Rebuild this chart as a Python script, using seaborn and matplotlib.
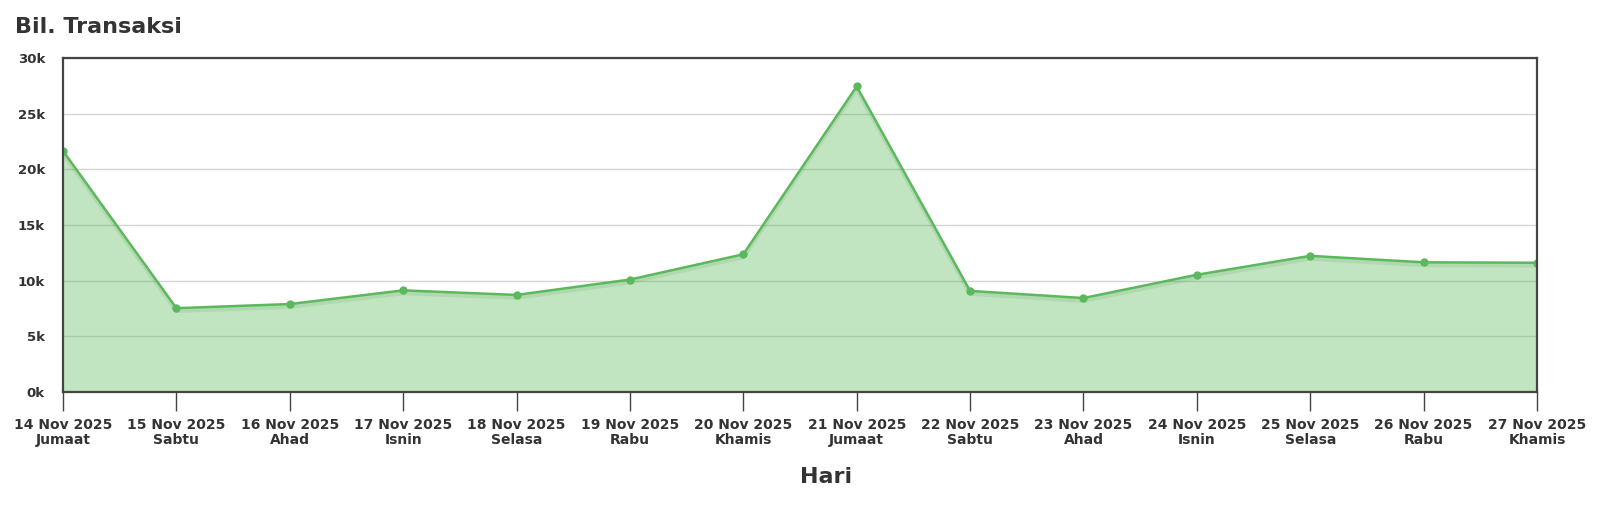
import matplotlib
matplotlib.use("Agg")
import matplotlib.pyplot as plt
import seaborn as sns
import pandas as pd
import numpy as np

dates = ["14 Nov 2025", "15 Nov 2025", "16 Nov 2025", "17 Nov 2025", "18 Nov 2025",
         "19 Nov 2025", "20 Nov 2025", "21 Nov 2025", "22 Nov 2025", "23 Nov 2025",
         "24 Nov 2025", "25 Nov 2025", "26 Nov 2025", "27 Nov 2025"]
days = ["Jumaat", "Sabtu", "Ahad", "Isnin", "Selasa", "Rabu", "Khamis",
        "Jumaat", "Sabtu", "Ahad", "Isnin", "Selasa", "Rabu", "Khamis"]
transactions = [21650, 7530, 7900, 9130, 8720, 10100, 12370,
                27450, 9080, 8440, 10530, 12230, 11650, 11610]
y_ticks = [0, 5000, 10000, 15000, 20000, 25000, 30000]
y_tick_labels = ["0k", "5k", "10k", "15k", "20k", "25k", "30k"]

sns.set_theme(style="white")
plt.rcParams['font.family'] = ['DejaVu Sans']

df = pd.DataFrame({"idx": np.arange(len(dates)), "val": transactions})

fig = plt.figure(figsize=(16, 5.23), dpi=100)
ax = fig.add_axes([0.0394, 0.2505, 0.9212, 0.6385])

green = "#5cb85c"
ax.fill_between(df["idx"], df["val"], 0, color=green, alpha=0.38, linewidth=0, zorder=2)
# subtle shadow under line
ax.plot(df["idx"], np.array(transactions) - 250, color="#3c8c3c", alpha=0.12, linewidth=3, zorder=2.5)
sns.lineplot(data=df, x="idx", y="val", ax=ax, color=green, linewidth=1.8,
             marker="o", markersize=6, markeredgewidth=0, zorder=3)

ax.set_xlim(0, len(dates) - 1)
ax.set_ylim(0, 30000)
ax.set_yticks(y_ticks)
ax.set_yticklabels(y_tick_labels, fontsize=9.5, fontweight="bold", color="#333333")
ax.set_xticks(df["idx"])
ax.set_xticklabels([f"{d}\n{w}" for d, w in zip(dates, days)], fontsize=10,
                   fontweight="bold", color="#333333", linespacing=1.05)
ax.tick_params(axis="x", length=14, width=1, color="#444444", direction="out", pad=5, bottom=True)
ax.tick_params(axis="y", length=0, pad=13)

ax.grid(axis="y", color="#d5d5d5", linewidth=1, zorder=1)
ax.grid(axis="x", visible=False)
ax.set_axisbelow(True)
for s in ax.spines.values():
    s.set_color("#444444")
    s.set_linewidth(1.6)
    s.set_zorder(4)

ax.set_xlabel("")
ax.set_ylabel("")
fig.text(0.516, 1 - 477 / 523, "Hari", fontsize=16, fontweight="bold", color="#333333",
         ha="center", va="center")
fig.text(0.0095, 1 - 27 / 523, "Bil. Transaksi", fontsize=16, fontweight="bold", color="#333333",
         ha="left", va="center")

fig.savefig("out.png", dpi=100, facecolor="white")
